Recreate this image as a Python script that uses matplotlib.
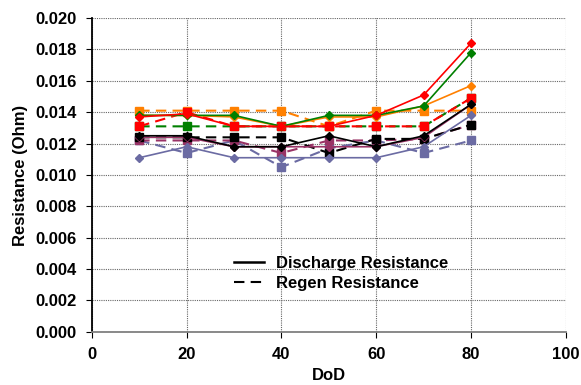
import matplotlib
matplotlib.use("Agg")
import matplotlib.pyplot as plt
from matplotlib.lines import Line2D

plt.rcParams['font.family'] = ['Liberation Sans', 'DejaVu Sans']
plt.rcParams['font.weight'] = 'bold'

dod = [10, 20, 30, 40, 50, 60, 70, 80]

# resistance de decharge (traits pleins, losanges)
dis_bleu = [0.0111, 0.0118, 0.0111, 0.0111, 0.0111, 0.0111, 0.0118, 0.0138]
dis_violet = [0.0124, 0.0124, 0.0118, 0.0118, 0.0118, 0.0118, 0.0124, 0.0145]
dis_noir = [0.0125, 0.0125, 0.0118, 0.0118, 0.0125, 0.0118, 0.0125, 0.0145]
dis_orange = [0.0138, 0.0138, 0.0137, 0.0131, 0.0137, 0.0137, 0.0144, 0.0157]
dis_vert = [0.0138, 0.0138, 0.0138, 0.0131, 0.0138, 0.0138, 0.0144, 0.0178]
dis_rouge = [0.0137, 0.0139, 0.0131, 0.0131, 0.0131, 0.0138, 0.0151, 0.0184]

# resistance de regen (pointilles, carres)
reg_bleu = [0.0122, 0.0114, 0.0122, 0.0105, 0.0117, 0.0122, 0.0114, 0.0122]
reg_violet = [0.0122, 0.0122, 0.0122, 0.0114, 0.0122, 0.0122, 0.0123, 0.0132]
reg_noir = [0.0124, 0.0124, 0.0124, 0.0124, 0.0114, 0.0123, 0.0123, 0.0132]
reg_vert = [0.0131, 0.0131, 0.0131, 0.0131, 0.0131, 0.0131, 0.0131, 0.0149]
reg_orange = [0.0141, 0.0141, 0.0141, 0.0141, 0.0131, 0.0141, 0.0141, 0.0141]
reg_rouge = [0.0131, 0.0140, 0.0131, 0.0131, 0.0131, 0.0131, 0.0131, 0.0149]

bleu = '#6B6BA3'
violet = '#993366'
orange = '#FF8000'
vert = '#008000'
rouge = '#FF0000'

fig = plt.figure(figsize=(5.81, 3.85), dpi=100)
ax = fig.add_axes([0.158, 0.138, 0.816, 0.815])

series_dis = [(dis_bleu, bleu), (dis_violet, violet), (dis_noir, 'black'),
              (dis_orange, orange), (dis_vert, vert), (dis_rouge, rouge)]
series_reg = [(reg_bleu, bleu), (reg_violet, violet), (reg_noir, 'black'),
              (reg_vert, vert), (reg_orange, orange), (reg_rouge, rouge)]

for vals, c in series_reg:
    ax.plot(dod, vals, color=c, linestyle=(0, (5, 3)), linewidth=1.5,
            marker='s', markersize=6, zorder=3)
for vals, c in series_dis:
    ax.plot(dod, vals, color=c, linestyle='-', linewidth=1.2,
            marker='D', markersize=4, zorder=4)

ax.set_xlim(0, 100)
ax.set_ylim(0, 0.020)
ax.set_xticks(range(0, 101, 20))
ax.set_yticks([i * 0.002 for i in range(11)])
ax.yaxis.set_major_formatter(matplotlib.ticker.FormatStrFormatter('%.3f'))
ax.grid(True, color='#666666', linestyle=(0, (1, 1)), linewidth=0.8)
ax.set_axisbelow(True)

for s in ['top', 'right']:
    ax.spines[s].set_visible(False)
ax.spines['left'].set_linewidth(1.3)
ax.spines['bottom'].set_color('#808080')
ax.spines['bottom'].set_linewidth(1.3)

ax.tick_params(axis='both', labelsize=12, direction='out', length=4, pad=7)
for lab in ax.get_xticklabels() + ax.get_yticklabels():
    lab.set_fontweight('bold')

ax.set_xlabel('DoD', fontsize=12, fontweight='bold', labelpad=4)
ax.set_ylabel('Resistance (Ohm)', fontsize=12, fontweight='bold', labelpad=5)

handles = [Line2D([0], [0], color='black', linewidth=1.8, linestyle='-'),
           Line2D([0], [0], color='black', linewidth=1.5, linestyle=(0, (5, 3)))]
leg = ax.legend(handles, ['Discharge Resistance', 'Regen Resistance'],
                loc='upper left', bbox_to_anchor=(0.275, 0.28), frameon=False,
                prop={'size': 12, 'weight': 'bold'}, handlelength=1.8,
                handletextpad=0.7, labelspacing=0.3, borderpad=0.2)

fig.savefig('out.png', dpi=100)
